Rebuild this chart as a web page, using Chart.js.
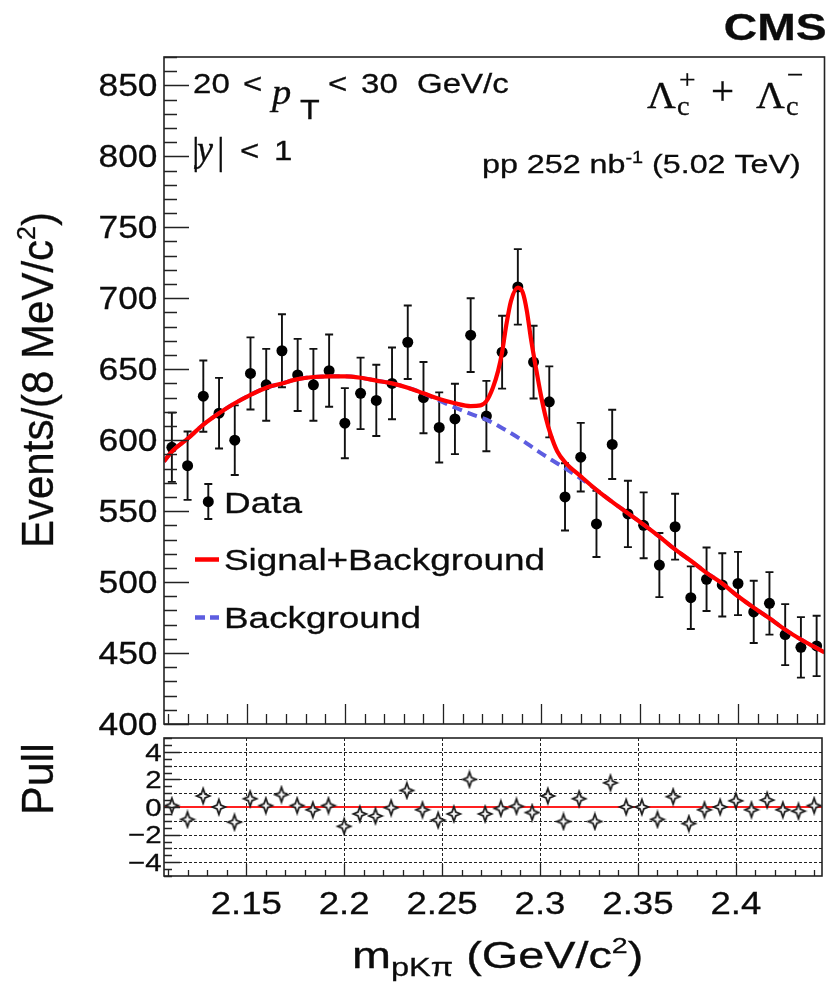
<!DOCTYPE html>
<html>
<head>
<meta charset="utf-8">
<title>Lambda_c invariant mass fit</title>
<script src="https://cdn.jsdelivr.net/npm/chart.js@4.4.1/dist/chart.umd.min.js"></script>
<style>
  html, body { margin: 0; padding: 0; background: #ffffff; }
  #wrap { position: relative; width: 830px; height: 986px; }
  #wrap canvas { position: absolute; left: 0; top: 0; }
</style>
</head>
<body>
<div id="wrap">
  <canvas id="mainPlot" width="830" height="986"></canvas>
  <canvas id="pullPlot" width="830" height="986"></canvas>
</div>
<script>
// ---- data: pK-pi invariant mass, 8 MeV/c^2 bins ----
const massBins = [2.112, 2.120, 2.128, 2.136, 2.144, 2.152, 2.160, 2.168, 2.176, 2.184,
                  2.192, 2.200, 2.208, 2.216, 2.224, 2.232, 2.240, 2.248, 2.256, 2.264,
                  2.272, 2.280, 2.288, 2.296, 2.304, 2.312, 2.320, 2.328, 2.336, 2.344,
                  2.352, 2.360, 2.368, 2.376, 2.384, 2.392, 2.400, 2.408, 2.416, 2.424,
                  2.432, 2.440];
const events = [595, 582, 631, 619, 600, 647, 639, 663, 646, 639,
                649, 612, 633, 628, 640, 669, 630, 609, 615, 674,
                617, 662, 708, 655, 627, 560, 588, 541, 597, 548,
                540, 512, 539, 489, 502, 498, 499, 479, 485, 463,
                454, 455];
const eventErrors = [24.4, 24.1, 25.1, 24.9, 24.5, 25.4, 25.3, 25.7, 25.4, 25.3,
                     25.5, 24.7, 25.2, 25.1, 25.3, 25.9, 25.1, 24.7, 24.8, 26.0,
                     24.8, 25.7, 26.6, 25.6, 25.0, 23.7, 24.2, 23.3, 24.4, 23.4,
                     23.2, 22.6, 23.2, 22.1, 22.4, 22.3, 22.3, 21.9, 22.0, 21.5,
                     21.3, 21.3];
const pulls = [0.1, -0.9, 0.8, 0.0, -1.1, 0.6, 0.1, 0.9, 0.1, -0.2,
               0.1, -1.4, -0.5, -0.65, -0.05, 1.2, -0.2, -0.95, -0.5, 2.0,
               -0.5, -0.1, 0.05, -0.4, 0.8, -1.05, 0.6, -1.05, 1.75, 0.0,
               0.0, -0.9, 0.75, -1.2, -0.2, 0.0, 0.45, -0.2, 0.5, -0.2,
               -0.3, 0.1];

// fitted signal+background curve
const fitMass = [2.108, 2.112, 2.120, 2.128, 2.136, 2.144, 2.152, 2.160, 2.168, 2.176,
                 2.184, 2.192, 2.200, 2.208, 2.216, 2.224, 2.232, 2.240, 2.248, 2.256,
                 2.264, 2.269, 2.272, 2.2753, 2.278, 2.280, 2.282, 2.2845, 2.288, 2.2905,
                 2.2926, 2.2946, 2.2972, 2.2997, 2.3022, 2.3047, 2.3081, 2.3123, 2.320, 2.328,
                 2.336, 2.344, 2.352, 2.360, 2.368, 2.376, 2.384, 2.392, 2.400, 2.408,
                 2.416, 2.424, 2.432, 2.440, 2.444];
const fitSB = [585, 592, 601, 611, 619, 626, 632, 637, 640, 643,
               644.5, 645, 645, 644, 642, 640, 637, 633, 629, 626,
               624, 624.5, 627.5, 637, 649, 662, 680, 698, 707.5, 704,
               691, 672, 651, 632, 616, 604, 592, 584, 574.5, 565,
               556.5, 548.5, 540.5, 532, 523, 515, 506.5, 499, 490, 482,
               474.5, 466.5, 459.5, 453.5, 450.5];

// fitted background-only curve
const bkgMass = [2.108, 2.112, 2.120, 2.128, 2.136, 2.144, 2.152, 2.160, 2.168, 2.176,
                 2.184, 2.192, 2.200, 2.208, 2.216, 2.224, 2.232, 2.240, 2.248, 2.256,
                 2.264, 2.272, 2.2813, 2.2896, 2.298, 2.3047, 2.3123, 2.320, 2.328, 2.336,
                 2.344, 2.352, 2.360, 2.368, 2.376, 2.384, 2.392, 2.400, 2.408, 2.416,
                 2.424, 2.432, 2.440, 2.444];
const fitBkg = [585, 592, 601, 611, 619, 626, 632, 637, 640, 643,
                644.5, 645, 645, 644, 642, 640, 637, 633, 628, 623,
                618.5, 614.5, 607.5, 600.5, 592.5, 586.5, 580, 573, 565, 556.5,
                548.5, 540.5, 532, 523, 515, 506.5, 499, 490, 482, 474.5,
                466.5, 459.5, 453.5, 450.5];

// axes
const massRange = [2.108, 2.444];
const eventRange = [400, 870];
const pullRange = [-5, 5];
const yTicks = [400, 450, 500, 550, 600, 650, 700, 750, 800, 850];
const yTickLabels = ['400', '450', '500', '550', '600', '650', '700', '750', '800', '850'];
const xTicks = [2.15, 2.2, 2.25, 2.3, 2.35, 2.4];
const xTickLabels = ['2.15', '2.2', '2.25', '2.3', '2.35', '2.4'];
const pullTicks = [-4, -2, 0, 2, 4];
const pullTickLabels = ['\u22124', '\u22122', '0', '2', '4'];

// ---- drawing helpers ----
const SANS = '"Liberation Sans", Arial, Helvetica, sans-serif';
const SERIF = '"Liberation Serif", "Times New Roman", serif';
const INK = '#0c0c0c';

function fontOf(p) {
  return (p.style || 'normal') + ' ' + (p.weight || 'normal') + ' ' + p.size + 'px ' + (p.family || SANS);
}

// draws a run of text pieces (with sub/superscripts), stretched horizontally by sx
function drawRuns(ctx, x, y, parts, align, sx) {
  sx = sx || 1;
  let total = 0;
  const widths = parts.map(p => {
    ctx.font = fontOf(p);
    const w = ctx.measureText(p.t).width * sx;
    total += w;
    return w;
  });
  let cx = align === 'right' ? x - total : (align === 'center' ? x - total / 2 : x);
  parts.forEach((p, i) => {
    ctx.save();
    ctx.font = fontOf(p);
    ctx.fillStyle = p.color || INK;
    ctx.strokeStyle = p.color || INK;
    ctx.lineWidth = 0.3;
    ctx.textAlign = 'left';
    ctx.textBaseline = 'alphabetic';
    ctx.translate(cx, y + (p.dy || 0));
    ctx.scale(sx, 1);
    ctx.fillText(p.t, 0, 0);
    ctx.strokeText(p.t, 0, 0);
    ctx.restore();
    cx += widths[i];
  });
}

function text(ctx, str, x, y, size, align, sx, extra) {
  drawRuns(ctx, x, y, [Object.assign({ t: str, size: size }, extra || {})], align, sx);
}

function rangeSteps(lo, hi, step) {
  const out = [];
  const n = Math.round((hi - lo) / step);
  for (let i = 0; i <= n; i++) out.push(+(lo + i * step).toFixed(6));
  return out;
}

// open four-pointed star used for pull markers
function starMarker() {
  const c = document.createElement('canvas');
  c.width = 18; c.height = 20;
  const g = c.getContext('2d');
  const cx = 9, cy = 10, rx = 6.5, ry = 7.5, k = 1.9;
  g.beginPath();
  g.moveTo(cx, cy - ry);
  g.lineTo(cx + k, cy - k);
  g.lineTo(cx + rx, cy);
  g.lineTo(cx + k, cy + k);
  g.lineTo(cx, cy + ry);
  g.lineTo(cx - k, cy + k);
  g.lineTo(cx - rx, cy);
  g.lineTo(cx - k, cy - k);
  g.closePath();
  g.fillStyle = '#f4f4f4';
  g.fill();
  g.lineWidth = 1.7;
  g.strokeStyle = '#1a1a1a';
  g.stroke();
  return c;
}

// ---- main panel decorations ----
const mainDecor = {
  id: 'mainDecor',
  beforeDatasetsDraw(chart) {
    const { ctx } = chart;
    const xs = chart.scales.x, ys = chart.scales.y;
    ctx.save();
    ctx.strokeStyle = '#111';
    ctx.lineWidth = 1.9;
    ctx.beginPath();
    massBins.forEach((m, i) => {
      const x = xs.getPixelForValue(m);
      const y1 = ys.getPixelForValue(events[i] + eventErrors[i]);
      const y0 = ys.getPixelForValue(events[i] - eventErrors[i]);
      ctx.moveTo(x, y0); ctx.lineTo(x, y1);
      ctx.moveTo(x - 4, y0); ctx.lineTo(x + 4, y0);
      ctx.moveTo(x - 4, y1); ctx.lineTo(x + 4, y1);
    });
    ctx.stroke();
    ctx.restore();
  },
  afterDatasetsDraw(chart) {
    const { ctx, chartArea: a } = chart;
    const xs = chart.scales.x, ys = chart.scales.y;
    ctx.save();
    // frame
    ctx.strokeStyle = '#222';
    ctx.lineWidth = 1.6;
    ctx.strokeRect(a.left, a.top, a.right - a.left, a.bottom - a.top);
    // y ticks (inside frame)
    ctx.lineWidth = 1.3;
    ctx.beginPath();
    rangeSteps(400, 870, 10).forEach(v => {
      const y = Math.round(ys.getPixelForValue(v)) + 0.5;
      const len = (v % 50 === 0) ? 25 : 13;
      ctx.moveTo(a.left, y); ctx.lineTo(a.left + len, y);
    });
    // x ticks along the bottom
    rangeSteps(2.11, 2.44, 0.01).forEach(v => {
      const x = Math.round(xs.getPixelForValue(v)) + 0.5;
      const major = xTicks.some(t => Math.abs(t - v) < 1e-6);
      const len = major ? 20 : 10;
      ctx.moveTo(x, a.bottom); ctx.lineTo(x, a.bottom - len);
    });
    ctx.stroke();
    ctx.restore();

    // y tick labels
    yTicks.forEach((v, i) => {
      text(ctx, yTickLabels[i], 157.5, ys.getPixelForValue(v) + 10.8, 30.5, 'right', 1.16);
    });

    // y-axis title (rotated)
    ctx.save();
    ctx.translate(53, 548);
    ctx.rotate(-Math.PI / 2);
    ctx.scale(1, 1.05);
    drawRuns(ctx, 0, 0, [
      { t: 'Events/(8 MeV/c', size: 42 },
      { t: '2', size: 25, dy: -17 },
      { t: ')', size: 42 }
    ], 'left', 1);
    ctx.restore();

    // experiment label
    text(ctx, 'CMS', 826.5, 40, 37, 'right', 1.25, { weight: 'bold' });

    // kinematic selection
    text(ctx, '20', 193, 92.5, 28, 'left', 1.18);
    text(ctx, '<', 243, 92.5, 28, 'left', 1.18);
    text(ctx, 'p', 272, 103.5, 35, 'left', 1.1, { family: SERIF, style: 'italic' });
    text(ctx, 'T', 300, 119, 28, 'left', 1.15);
    text(ctx, '<', 328, 92.5, 28, 'left', 1.18);
    text(ctx, '30', 361, 92.5, 28, 'left', 1.18);
    text(ctx, 'GeV/c', 417, 92.5, 28, 'left', 1.18);

    text(ctx, '|', 192, 164, 38, 'left', 1.0, { family: SERIF });
    text(ctx, 'y', 197, 161, 36, 'left', 1.0, { family: SERIF, style: 'italic' });
    text(ctx, '|', 217, 164, 38, 'left', 1.0, { family: SERIF });
    text(ctx, '<', 240, 160, 28, 'left', 1.18);
    text(ctx, '1', 274, 160, 28, 'left', 1.18);

    // particle label
    const sf = { family: SERIF };
    text(ctx, '\u039B', 647, 108, 38, 'left', 1.05, sf);
    text(ctx, 'c', 677, 115, 27, 'left', 1.05, sf);
    text(ctx, '+', 679, 89, 28, 'left', 1.05, sf);
    text(ctx, '+', 711, 104, 39, 'left', 1.05, sf);
    text(ctx, '\u039B', 756, 108, 38, 'left', 1.05, sf);
    text(ctx, 'c', 786, 115, 27, 'left', 1.05, sf);
    text(ctx, '\u2212', 787, 84, 28, 'left', 1.05, sf);

    // luminosity / energy
    drawRuns(ctx, 482, 173, [
      { t: 'pp 252 nb', size: 26 },
      { t: '-1', size: 16, dy: -10 },
      { t: ' (5.02 TeV)', size: 26 }
    ], 'left', 1.24);

    // legend
    ctx.save();
    ctx.strokeStyle = '#111';
    ctx.lineWidth = 1.9;
    ctx.beginPath();
    ctx.moveTo(208.3, 484); ctx.lineTo(208.3, 519);
    ctx.moveTo(204.3, 484); ctx.lineTo(212.3, 484);
    ctx.moveTo(204.3, 519); ctx.lineTo(212.3, 519);
    ctx.stroke();
    ctx.fillStyle = '#000';
    ctx.beginPath();
    ctx.arc(208.3, 501.7, 5.5, 0, Math.PI * 2);
    ctx.fill();
    ctx.lineWidth = 4.5;
    ctx.strokeStyle = '#ff0000';
    ctx.beginPath();
    ctx.moveTo(195, 559.5); ctx.lineTo(219, 559.5);
    ctx.stroke();
    ctx.strokeStyle = '#5d5de0';
    ctx.beginPath();
    ctx.moveTo(195, 617.5); ctx.lineTo(205, 617.5);
    ctx.moveTo(210, 617.5); ctx.lineTo(219, 617.5);
    ctx.stroke();
    ctx.restore();
    text(ctx, 'Data', 224, 513.3, 30, 'left', 1.23);
    text(ctx, 'Signal+Background', 224, 570, 30, 'left', 1.23);
    text(ctx, 'Background', 224, 628.3, 30, 'left', 1.23);
  }
};

// ---- pull panel decorations ----
const pullDecor = {
  id: 'pullDecor',
  beforeDatasetsDraw(chart) {
    const { ctx, chartArea: a } = chart;
    const xs = chart.scales.x, ys = chart.scales.y;
    ctx.save();
    ctx.strokeStyle = '#222';
    ctx.lineWidth = 1;
    ctx.setLineDash([3, 2]);
    ctx.beginPath();
    rangeSteps(-4, 4, 1).forEach(v => {
      const y = Math.round(ys.getPixelForValue(v)) + 0.5;
      ctx.moveTo(a.left, y); ctx.lineTo(a.right, y);
    });
    xTicks.forEach(v => {
      const x = Math.round(xs.getPixelForValue(v)) + 0.5;
      ctx.moveTo(x, a.top); ctx.lineTo(x, a.bottom);
    });
    ctx.stroke();
    ctx.restore();
  },
  afterDatasetsDraw(chart) {
    const { ctx, chartArea: a } = chart;
    const xs = chart.scales.x, ys = chart.scales.y;
    ctx.save();
    ctx.strokeStyle = '#222';
    ctx.lineWidth = 1.6;
    ctx.strokeRect(a.left, a.top, a.right - a.left, a.bottom - a.top);
    ctx.lineWidth = 1.3;
    ctx.beginPath();
    rangeSteps(-5, 5, 0.5).forEach(v => {
      const y = Math.round(ys.getPixelForValue(v)) + 0.5;
      const major = pullTicks.some(t => t === v);
      const len = major ? 16 : 8;
      ctx.moveTo(a.left, y); ctx.lineTo(a.left + len, y);
    });
    rangeSteps(2.11, 2.44, 0.01).forEach(v => {
      const x = Math.round(xs.getPixelForValue(v)) + 0.5;
      const major = xTicks.some(t => Math.abs(t - v) < 1e-6);
      const len = major ? 12 : 6;
      ctx.moveTo(x, a.bottom); ctx.lineTo(x, a.bottom - len);
    });
    ctx.stroke();
    ctx.restore();

    pullTicks.forEach((v, i) => {
      text(ctx, pullTickLabels[i], 161.5, ys.getPixelForValue(v) + 8.8, 24.5, 'right', 1.2);
    });
    xTicks.forEach((v, i) => {
      text(ctx, xTickLabels[i], xs.getPixelForValue(v), 914, 30.5, 'center', 1.2);
    });

    // x-axis title
    drawRuns(ctx, 352, 968, [
      { t: 'm', size: 36 },
      { t: 'pK\u03C0', size: 25, dy: 8 },
      { t: ' (GeV/c', size: 36 },
      { t: '2', size: 22, dy: -15 },
      { t: ')', size: 36 }
    ], 'left', 1.3);

    // pull axis title (rotated)
    ctx.save();
    ctx.translate(53, 815);
    ctx.rotate(-Math.PI / 2);
    ctx.scale(1, 1.05);
    drawRuns(ctx, 0, 0, [{ t: 'Pull', size: 43 }], 'left', 1);
    ctx.restore();
  }
};

const commonOpts = (pad, yr) => ({
  responsive: false,
  animation: false,
  devicePixelRatio: 1,
  events: [],
  layout: { padding: pad },
  scales: {
    x: { type: 'linear', min: massRange[0], max: massRange[1], display: false },
    y: { type: 'linear', min: yr[0], max: yr[1], display: false }
  },
  plugins: { legend: { display: false }, tooltip: { enabled: false } }
});

new Chart(document.getElementById('mainPlot'), {
  type: 'scatter',
  data: {
    datasets: [
      {
        label: 'Signal+Background',
        type: 'line',
        data: fitMass.map((m, i) => ({ x: m, y: fitSB[i] })),
        borderColor: '#ff0000',
        borderWidth: 4.2,
        pointRadius: 0,
        fill: false,
        cubicInterpolationMode: 'monotone',
        order: 1
      },
      {
        label: 'Background',
        type: 'line',
        data: bkgMass.map((m, i) => ({ x: m, y: fitBkg[i] })),
        borderColor: '#5d5de0',
        borderWidth: 4,
        borderDash: [10, 6],
        pointRadius: 0,
        fill: false,
        cubicInterpolationMode: 'monotone',
        order: 2
      },
      {
        label: 'Data',
        data: massBins.map((m, i) => ({ x: m, y: events[i] })),
        pointRadius: 5.5,
        pointHoverRadius: 5.5,
        backgroundColor: '#000000',
        borderColor: '#000000',
        borderWidth: 0,
        order: 3
      }
    ]
  },
  options: commonOpts({ left: 164, right: 2, top: 57, bottom: 262 }, eventRange),
  plugins: [mainDecor]
});

new Chart(document.getElementById('pullPlot'), {
  type: 'scatter',
  data: {
    datasets: [
      {
        label: 'Pull',
        data: massBins.map((m, i) => ({ x: m, y: pulls[i] })),
        pointStyle: starMarker(),
        pointRadius: 7,
        order: 0
      },
      {
        label: 'zero',
        type: 'line',
        data: [{ x: massRange[0], y: 0 }, { x: massRange[1], y: 0 }],
        borderColor: '#ff2020',
        borderWidth: 1.8,
        pointRadius: 0,
        fill: false,
        order: 1
      }
    ]
  },
  options: commonOpts({ left: 164, right: 2, top: 738, bottom: 110 }, pullRange),
  plugins: [pullDecor]
});
</script>
</body>
</html>
